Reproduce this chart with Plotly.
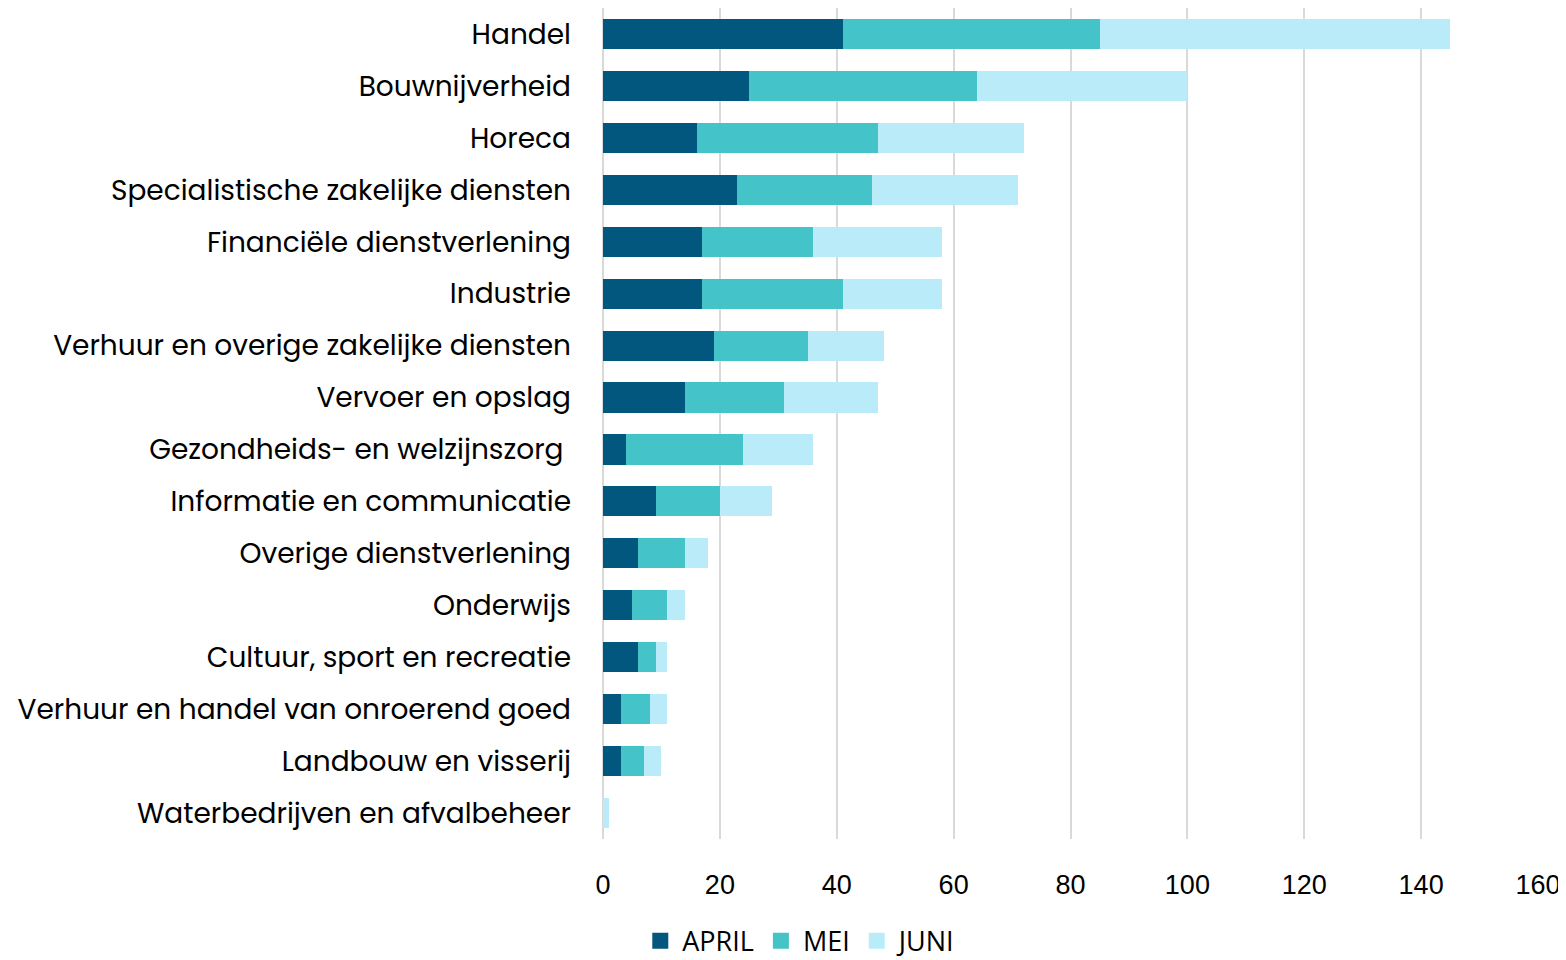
import plotly.graph_objects as go

categories = [
    "Handel",
    "Bouwnijverheid",
    "Horeca",
    "Specialistische zakelijke diensten",
    "Financiële dienstverlening",
    "Industrie",
    "Verhuur en overige zakelijke diensten",
    "Vervoer en opslag",
    "Gezondheids- en welzijnszorg ",
    "Informatie en communicatie",
    "Overige dienstverlening",
    "Onderwijs",
    "Cultuur, sport en recreatie",
    "Verhuur en handel van onroerend goed",
    "Landbouw en visserij",
    "Waterbedrijven en afvalbeheer",
]
april = [41, 25, 16, 23, 17, 17, 19, 14, 4, 9, 6, 5, 6, 3, 3, 0]
mei = [44, 39, 31, 23, 19, 24, 16, 17, 20, 11, 8, 6, 3, 5, 4, 0]
juni = [60, 36, 25, 25, 22, 17, 13, 16, 12, 9, 4, 3, 2, 3, 3, 1]

series = [("APRIL", april, "#02577E"), ("MEI", mei, "#44C4C8"), ("JUNI", juni, "#B9ECF8")]

fig = go.Figure()
for name, vals, color in series:
    fig.add_trace(go.Bar(y=categories, x=vals, name=name, orientation="h", showlegend=False,
                         marker=dict(color=color, line=dict(width=0))))
# legend entries with larger square swatches
for name, vals, color in series:
    fig.add_trace(go.Scatter(x=[None], y=[None], mode="markers", name=name,
                             marker=dict(symbol="square", size=20, color=color)))

font_main = "Poppins, 'Open Sans', sans-serif"
fig.update_layout(
    barmode="stack",
    bargap=0.42,
    width=1558, height=952,
    margin=dict(l=595, r=28, t=0, b=121, autoexpand=False),
    plot_bgcolor="white", paper_bgcolor="white",
    font=dict(family=font_main, size=28, color="#000000"),
    xaxis=dict(range=[0, 160], dtick=20, showgrid=True, gridcolor="#D9D9D9", gridwidth=1.5,
               zeroline=True, zerolinecolor="#D9D9D9", zerolinewidth=1.5,
               tickfont=dict(family="'Liberation Sans', Arial, sans-serif", size=27),
               ticklabelstandoff=27, fixedrange=True),
    yaxis=dict(autorange="reversed", tickfont=dict(size=28), ticklabelstandoff=31,
               showgrid=False, ticks=""),
    legend=dict(orientation="h", x=0.211, xanchor="center", y=-0.123, yanchor="middle",
                traceorder="normal", font=dict(family="'Open Sans', sans-serif", size=27),
                itemwidth=34),
    showlegend=True,
)

fig.write_html("out.html")
